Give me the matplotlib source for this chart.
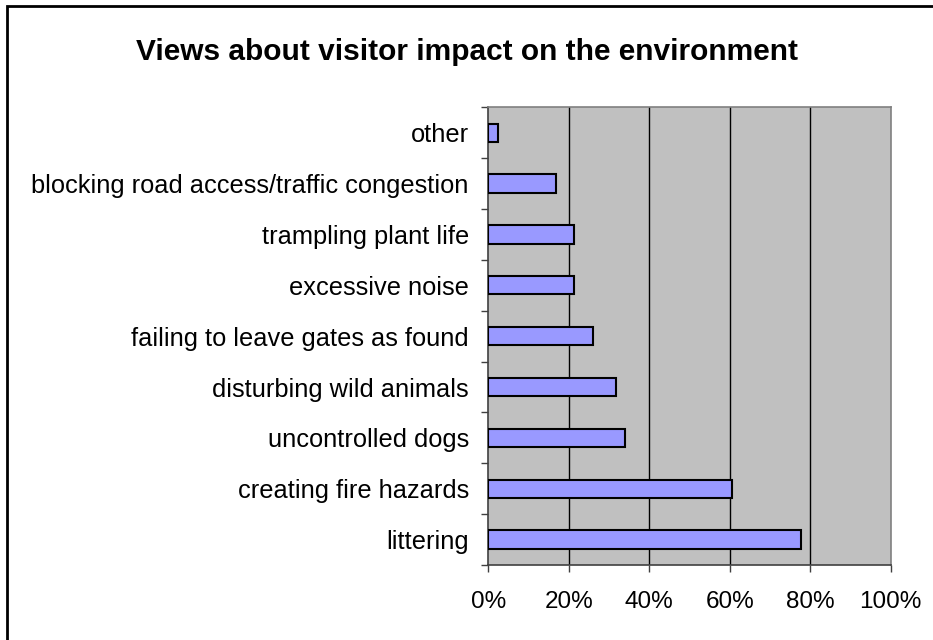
import matplotlib
matplotlib.use("Agg")
import matplotlib.pyplot as plt
import numpy as np
from matplotlib.patches import Rectangle
from matplotlib.ticker import FixedLocator, FuncFormatter

plt.rcParams['font.family'] = ['Liberation Sans', 'DejaVu Sans']

title = "Views about visitor impact on the environment"
categories = ["littering", "creating fire hazards", "uncontrolled dogs",
              "disturbing wild animals", "failing to leave gates as found",
              "excessive noise", "trampling plant life",
              "blocking road access/traffic congestion", "other"]
values = [77.8, 60.5, 33.9, 31.8, 26.1, 21.4, 21.4, 16.9, 2.4]
xticks = [0, 20, 40, 60, 80, 100]

W, H = 933, 640
fig = plt.figure(figsize=(W / 100, H / 100), dpi=100)
fig.patch.set_facecolor('white')
# outer chart border (right and bottom edges fall outside the image)
fig.add_artist(Rectangle((6.5 / W, -10 / H), (W + 20) / W, (H + 10 - 5.5) / H,
                         transform=fig.transFigure, fill=False,
                         edgecolor='black', linewidth=2.0, clip_on=False))

left, right, top, bottom = 488.3, 890.7, 107.3, 565.0
ax = fig.add_axes([left / W, 1 - bottom / H, (right - left) / W, (bottom - top) / H])
ax.set_facecolor('#C0C0C0')

y = np.arange(len(categories))
ax.barh(y, values, height=0.36, color='#9999FF', edgecolor='black',
        linewidth=1.5, zorder=3)

ax.set_xlim(0, 100)
ax.set_ylim(-0.5, len(categories) - 0.5)
ax.set_xticks(xticks)
ax.xaxis.set_major_formatter(FuncFormatter(lambda v, p: f"{int(v)}%"))
for xv in xticks[1:-1]:
    ax.axvline(xv, color='black', linewidth=1.0, zorder=1)

ax.set_yticks(y)
ax.set_yticklabels(categories)
ax.yaxis.set_minor_locator(FixedLocator(np.arange(-0.5, len(categories), 1.0)))
ax.tick_params(axis='y', which='major', length=0, pad=14, labelsize=18.3)
ax.tick_params(axis='y', which='minor', length=5, width=1, color='#404040')
ax.tick_params(axis='x', which='major', length=5, width=1, color='#404040',
               labelsize=17.5, pad=14)

for s in ['top', 'right']:
    ax.spines[s].set_color('#808080')
    ax.spines[s].set_linewidth(1.2)
for s in ['left', 'bottom']:
    ax.spines[s].set_color('#404040')
    ax.spines[s].set_linewidth(1.2)

fig.text(467 / W, 1 - 52 / H, title, ha='center', va='center',
         fontsize=21.5, fontweight='bold')

fig.savefig("out.png", dpi=100)
